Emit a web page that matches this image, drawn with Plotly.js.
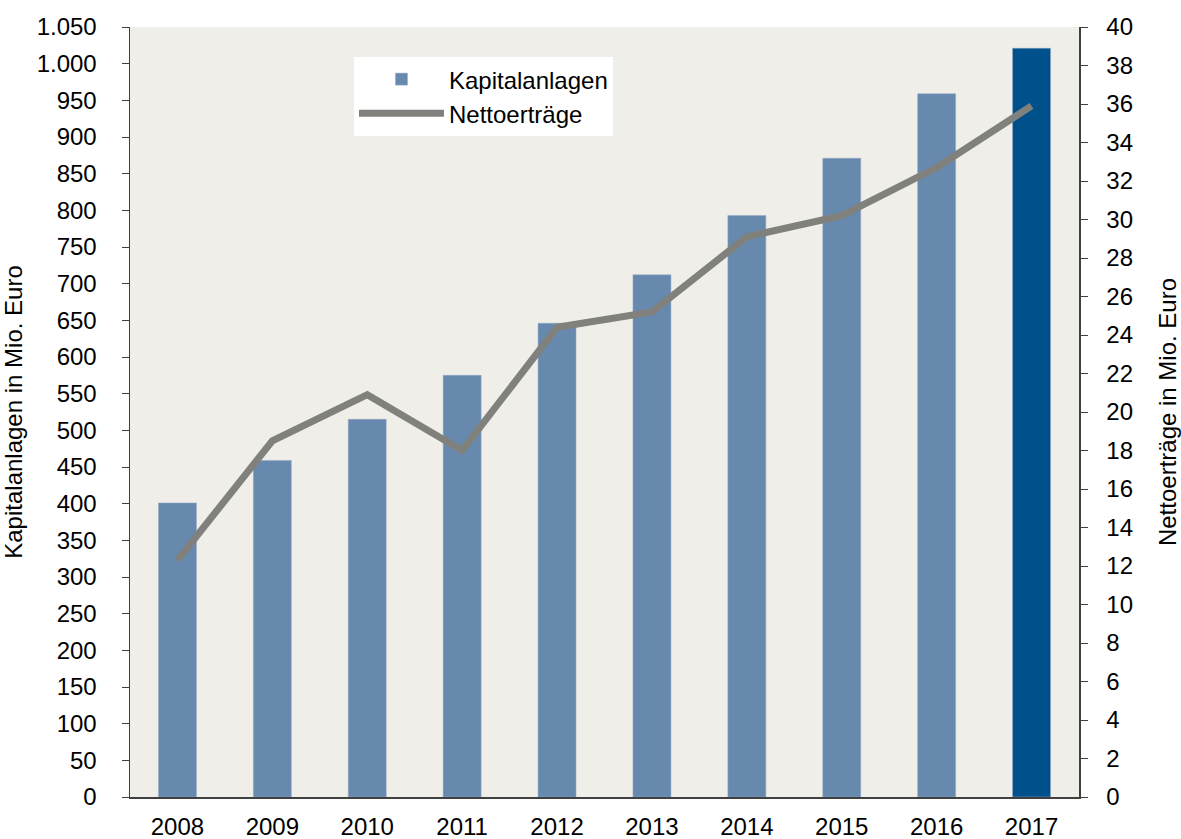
<!DOCTYPE html>
<html>
<head>
<meta charset="utf-8">
<script src="https://cdn.plot.ly/plotly-3.0.1.min.js"></script>
<style>html,body{margin:0;padding:0;background:#fff;}#chart{width:1181px;height:839px;}</style>
</head>
<body>
<div id="chart"></div>
<script>
const years = ['2008','2009','2010','2011','2012','2013','2014','2015','2016','2017'];
const kapitalanlagen = [401, 459, 515, 575, 646, 712, 793, 871, 959, 1021];
const nettoertraege = [12.3, 18.5, 20.9, 18.0, 24.4, 25.2, 29.1, 30.2, 32.7, 35.9];
const barColors = ['#6889AE','#6889AE','#6889AE','#6889AE','#6889AE','#6889AE','#6889AE','#6889AE','#6889AE','#00508C'];
const leftTicks = [0,50,100,150,200,250,300,350,400,450,500,550,600,650,700,750,800,850,900,950,1000,1050];
const rightTicks = [0,2,4,6,8,10,12,14,16,18,20,22,24,26,28,30,32,34,36,38,40];

const fam = 'Liberation Sans, Arial, sans-serif';
const tickFont = {family: fam, size: 24, color: '#000'};
const titleFont = {family: fam, size: 24, color: '#000'};

const traces = [
  {
    type: 'bar', name: 'Kapitalanlagen', x: years, y: kapitalanlagen,
    marker: {color: barColors, line: {color: '#8FA9C6', width: 0.5}},
    width: 0.4, yaxis: 'y'
  },
  {
    type: 'scatter', mode: 'lines', name: 'Nettoerträge', x: years, y: nettoertraege,
    line: {color: '#80807C', width: 7}, yaxis: 'y2'
  }
];

const layout = {
  width: 1181, height: 839,
  margin: {l: 130, r: 102, t: 27, b: 42},
  paper_bgcolor: '#ffffff',
  plot_bgcolor: '#F0EEE8',
  font: tickFont,
  separators: ',.',
  showlegend: true,
  legend: {
    x: 0.236, y: 0.961, xanchor: 'left', yanchor: 'top',
    bgcolor: '#ffffff', font: {family: fam, size: 24, color: '#000'},
    itemwidth: 85, tracegroupgap: 4, borderwidth: 0
  },
  xaxis: {
    type: 'category', range: [-0.5, 9.5],
    showline: true, linecolor: '#404040', linewidth: 1.5,
    ticks: '', showgrid: false, zeroline: false,
    tickfont: tickFont, ticklabelstandoff: 8
  },
  yaxis: {
    range: [0, 1050], tickvals: leftTicks, tickformat: ',d',
    showline: true, linecolor: '#404040', linewidth: 1.5,
    ticks: 'outside', ticklen: 7, tickcolor: '#404040',
    showgrid: false, zeroline: false, tickfont: tickFont, ticklabelstandoff: 20,
    title: {text: 'Kapitalanlagen in Mio. Euro', font: titleFont, standoff: 8}
  },
  yaxis2: {
    range: [0, 40], tickvals: rightTicks, overlaying: 'y', side: 'right',
    showline: true, linecolor: '#404040', linewidth: 1.5,
    ticks: 'outside', ticklen: 7, tickcolor: '#404040',
    showgrid: false, zeroline: false, tickfont: tickFont, ticklabelstandoff: 14,
    title: {text: 'Nettoerträge in Mio. Euro', font: titleFont, standoff: 30}
  }
};

Plotly.newPlot('chart', traces, layout, {displayModeBar: false, staticPlot: true});
</script>
</body>
</html>
